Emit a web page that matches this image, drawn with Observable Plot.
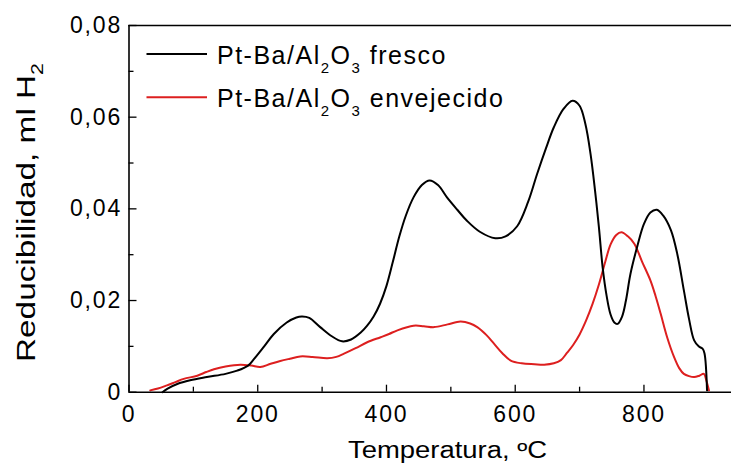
<!DOCTYPE html>
<html>
<head>
<meta charset="utf-8">
<script src="https://cdn.jsdelivr.net/npm/d3@7"></script>
<script src="https://cdn.jsdelivr.net/npm/@observablehq/plot@0.6"></script>
<style>
  html, body { margin: 0; padding: 0; background: #fff; }
  svg { display: block; }
  g[aria-label="x-axis tick label"] text,
  g[aria-label="y-axis tick label"] text { letter-spacing: 1.8px; }
</style>
</head>
<body>
<script>
// ---- data ----
const freshTemp = [52, 60, 75, 95, 121, 150, 168, 185, 194, 210, 225, 245, 260, 269, 280, 297, 315, 331, 345, 360, 370, 380, 390, 400, 410, 420, 430, 442, 455, 467, 480, 494, 510, 525, 545, 569, 585, 603, 620, 634, 648, 660, 675, 689, 700, 709, 717, 724, 730, 736, 742, 748, 754, 759, 766, 772, 779, 790, 800, 810, 820, 830, 842, 852, 862, 870, 878, 885, 891, 894, 898];
const freshVal  = [0, 0.0008, 0.0018, 0.0026, 0.0033, 0.0040, 0.0047, 0.0058, 0.0072, 0.0100, 0.0127, 0.0152, 0.0163, 0.0165, 0.0162, 0.0142, 0.0122, 0.0111, 0.0115, 0.0130, 0.0145, 0.0165, 0.0193, 0.0232, 0.0285, 0.0340, 0.0385, 0.0425, 0.0452, 0.0462, 0.0452, 0.0425, 0.0398, 0.0374, 0.0350, 0.0336, 0.0340, 0.0362, 0.0415, 0.0476, 0.0533, 0.0578, 0.0618, 0.0636, 0.0625, 0.0585, 0.0520, 0.0440, 0.0360, 0.0270, 0.0210, 0.0170, 0.0152, 0.0149, 0.0165, 0.0200, 0.0258, 0.0320, 0.0367, 0.0392, 0.0398, 0.0385, 0.0353, 0.0300, 0.0222, 0.0160, 0.0113, 0.0100, 0.0095, 0.0085, 0.0004];

const agedTemp = [33, 45, 59, 72, 85, 106, 120, 132, 150, 173, 190, 204, 220, 235, 250, 266, 285, 308, 322, 334, 352, 370, 391, 404, 417, 442, 458, 474, 495, 515, 530, 541, 555, 567, 580, 593, 610, 630, 645, 660, 671, 680, 690, 700, 710, 720, 730, 740, 748, 757, 765, 775, 785, 797, 810, 818, 826, 836, 847, 855, 862, 870, 878, 886, 893, 897, 901];
const agedVal  = [0.0004, 0.0008, 0.0015, 0.0022, 0.0029, 0.0036, 0.0044, 0.0050, 0.0056, 0.0060, 0.0058, 0.0055, 0.0062, 0.0068, 0.0073, 0.0078, 0.0077, 0.0074, 0.0077, 0.0084, 0.0096, 0.0109, 0.0120, 0.0127, 0.0135, 0.0145, 0.0144, 0.0142, 0.0148, 0.0154, 0.0150, 0.0142, 0.0125, 0.0106, 0.0085, 0.0069, 0.0063, 0.0061, 0.0060, 0.0063, 0.0070, 0.0085, 0.0103, 0.0126, 0.0156, 0.0192, 0.0235, 0.0285, 0.0322, 0.0343, 0.0349, 0.0340, 0.0324, 0.0285, 0.0244, 0.0210, 0.0171, 0.0120, 0.0076, 0.0052, 0.0040, 0.0035, 0.0033, 0.0036, 0.0040, 0.0025, 0.0004];

const seriesNames  = ["fresco", "envejecido"];
const seriesColors = ["#000000", "#dd1f1f"];

const xTicks = [0, 200, 400, 600, 800];
const xTickLabels = ["0", "200", "400", "600", "800"];
const xMinor = [100, 300, 500, 700];
const yTicks = [0, 0.02, 0.04, 0.06, 0.08];
const yTickLabels = ["0", "0,02", "0,04", "0,06", "0,08"];
const yMinor = [0.01, 0.03, 0.05, 0.07];

const xLabel = "Temperatura, ºC";
const yLabelMain = "Reducibilidad, ml H";
const yLabelSub = "2";

// ---- build ----
const fresh = freshTemp.map((t, i) => ({t, v: freshVal[i]}));
const aged  = agedTemp.map((t, i) => ({t, v: agedVal[i]}));

const W = 731, H = 473;
const mL = 128.5, mR = 0, mT = 25, mB = 81.3;
const plotW = W - mL - mR, plotH = H - mT - mB;
const FONT = "'Liberation Sans', Arial, Helvetica, sans-serif";

const svg = Plot.plot({
  width: W, height: H,
  marginLeft: mL, marginRight: mR, marginTop: mT, marginBottom: mB,
  x: {domain: [0, 936]},
  y: {domain: [0, 0.08]},
  style: {fontFamily: FONT, fontSize: "23px", background: "#fff", color: "#000", overflow: "visible"},
  marks: [
    Plot.line(aged,  {x: "t", y: "v", stroke: seriesColors[1], strokeWidth: 2, curve: "catmull-rom"}),
    Plot.line(fresh, {x: "t", y: "v", stroke: seriesColors[0], strokeWidth: 2, curve: "catmull-rom"}),
    Plot.ruleX([0], {stroke: "#000", strokeWidth: 1.6}),
    Plot.ruleY([0], {stroke: "#000", strokeWidth: 1.6}),
    Plot.ruleY([0.08], {stroke: "#000", strokeWidth: 1.6}),
    Plot.tickY(yTicks, {y: d => d, insetRight: plotW - 8, stroke: "#000", strokeWidth: 1.3}),
    Plot.tickY(yMinor, {y: d => d, insetRight: plotW - 5, stroke: "#000", strokeWidth: 1.3}),
    Plot.tickX(xTicks, {x: d => d, insetTop: plotH - 7, stroke: "#000", strokeWidth: 1.3}),
    Plot.tickX(xMinor, {x: d => d, insetTop: plotH - 5, stroke: "#000", strokeWidth: 1.3}),
    Plot.axisY(yTicks, {tickSize: 0, tickPadding: 7, fontSize: 23, label: null,
      tickFormat: d => yTickLabels[yTicks.indexOf(d)]}),
    Plot.axisX(xTicks, {tickSize: 0, tickPadding: 13, fontSize: 23, label: null,
      tickFormat: d => xTickLabels[xTicks.indexOf(d)]})
  ]
});
document.body.appendChild(svg);

const s = d3.select(svg);

// x label
s.append("text")
  .attr("x", 447.5).attr("y", 458)
  .attr("text-anchor", "middle")
  .attr("font-family", FONT).attr("font-size", 23).attr("fill", "#000")
  .attr("textLength", 199).attr("lengthAdjust", "spacingAndGlyphs")
  .text(xLabel);

// y label
const yl = s.append("text")
  .attr("transform", "translate(35,212.5) rotate(-90)")
  .attr("text-anchor", "middle")
  .attr("font-family", FONT).attr("font-size", 25).attr("fill", "#000")
  .attr("textLength", 299).attr("lengthAdjust", "spacingAndGlyphs");
yl.append("tspan").text(yLabelMain);
yl.append("tspan").attr("font-size", 16).attr("dy", 8).text(yLabelSub);

// legend
const legendRows = [{y: 54, base: 64}, {y: 97.3, base: 107.3}];
seriesNames.forEach((name, i) => {
  const r = legendRows[i];
  s.append("line")
    .attr("x1", 146.5).attr("x2", 207).attr("y1", r.y).attr("y2", r.y)
    .attr("stroke", seriesColors[i]).attr("stroke-width", 2);
  const t = s.append("text")
    .attr("x", 217).attr("y", r.base)
    .attr("text-anchor", "start")
    .attr("font-family", FONT).attr("font-size", 25).attr("fill", "#000")
    .attr("letter-spacing", "1.5px");
  t.append("tspan").text("Pt-Ba/Al");
  t.append("tspan").attr("font-size", 15).attr("dy", 9).text("2");
  t.append("tspan").attr("dy", -9).text("O");
  t.append("tspan").attr("font-size", 15).attr("dy", 9).text("3");
  t.append("tspan").attr("dy", -9).text("\u00a0" + name);
});
</script>
</body>
</html>
